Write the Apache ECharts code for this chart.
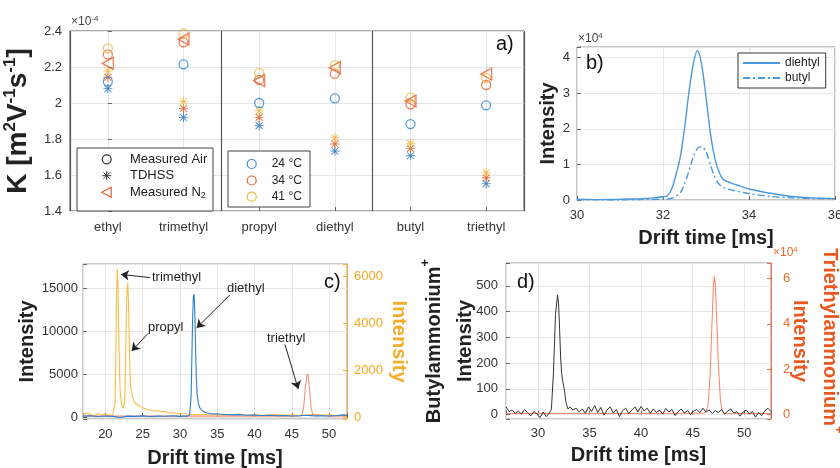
<!DOCTYPE html>
<html><head><meta charset="utf-8">
<script src="https://cdn.jsdelivr.net/npm/echarts@6/dist/echarts.min.js"></script>
<style>html,body{margin:0;padding:0;background:#fff}#c{width:840px;height:468px}</style>
</head><body><div id="c"></div>
<script>
// ---------- Panel a (K values, x1e-4) ----------
const categories = ['ethyl','trimethyl','propyl','diethyl','butyl','triethyl'];
const air24 = [2.12, 2.215, 2.0, 2.026, 1.883, 1.987];
const air34 = [2.27, 2.337, 2.128, 2.163, 1.993, 2.10];
const air41 = [2.304, 2.387, 2.167, 2.209, 2.03, 2.14];
const tdhss24 = [2.08, 1.92, 1.874, 1.733, 1.707, 1.552];
const tdhss34 = [2.143, 1.97, 1.92, 1.772, 1.748, 1.585];
const tdhss41 = [2.178, 2.007, 1.956, 1.807, 1.776, 1.613];
const measuredN2 = [2.22, 2.355, 2.124, 2.196, 2.011, 2.161];

// ---------- Panel b (x1e4) ----------
const bDiethylX = [30, 30.5, 31, 31.5, 31.8, 32.0, 32.1, 32.2, 32.3, 32.4, 32.5, 32.6, 32.7, 32.8, 32.9, 33.0, 33.1, 33.2, 33.3, 33.4, 33.6, 33.8, 34.0, 34.5, 35.0, 35.5, 36];
const bDiethylY = [0.02, 0.01, 0.02, 0.04, 0.06, 0.09, 0.12, 0.3, 0.7, 1.2, 2.0, 3.0, 3.8, 4.2, 3.8, 2.9, 1.9, 1.2, 0.8, 0.58, 0.47, 0.39, 0.31, 0.19, 0.1, 0.06, 0.04];
const bButylX = [30, 31, 31.5, 32.0, 32.2, 32.4, 32.5, 32.6, 32.7, 32.8, 32.9, 33.0, 33.1, 33.2, 33.3, 33.4, 33.6, 34.0, 34.5, 35, 36];
const bButylY = [0.01, 0.0, 0.01, 0.02, 0.05, 0.2, 0.45, 0.8, 1.2, 1.45, 1.5, 1.35, 1.0, 0.65, 0.45, 0.35, 0.28, 0.18, 0.1, 0.06, 0.03];

// ---------- Panel c ----------
const cYellowX = [17, 17.5, 18, 18.5, 19, 19.5, 20, 20.5, 21, 21.2, 21.3, 21.4, 21.5, 21.6, 21.7, 21.8, 21.9, 22.0, 22.2, 22.4, 22.6, 22.7, 22.8, 22.9, 23.0, 23.1, 23.2, 23.3, 23.4, 23.6, 23.8, 24, 24.5, 25, 25.5, 26, 26.5, 27, 27.5, 28, 28.5, 29, 29.5, 30, 31, 32, 33, 34, 35, 36, 37, 38, 39, 40, 41, 42, 43, 44, 45, 46, 47, 48, 49, 50, 51, 52, 52.4];
const cYellowY = [120, 180, 100, 60, 140, 90, 110, 70, 100, 150, 600, 2500, 5200, 6350, 5600, 3600, 1900, 1000, 500, 380, 700, 2200, 4300, 5500, 5720, 4900, 3300, 2000, 1300, 900, 700, 600, 480, 400, 330, 300, 260, 280, 210, 240, 170, 190, 140, 160, 130, 90, 120, 80, 110, 70, 100, 130, 80, 100, 60, 90, 110, 70, 90, 60, 80, 120, 70, 90, 60, 100, 80];
const cBlueX = [17, 18, 19, 20, 21, 22, 23, 24, 25, 26, 27, 28, 29, 30, 30.5, 31, 31.3, 31.5, 31.6, 31.7, 31.8, 31.9, 32.0, 32.1, 32.2, 32.3, 32.5, 32.7, 33, 33.5, 34, 35, 36, 37, 38, 39, 40, 41, 42, 43, 44, 45, 46, 47, 48, 49, 50, 51, 52, 52.4];
const cBlueY = [100, 150, 60, 120, 80, -50, 100, 80, 130, 60, 100, 90, 140, 70, 100, 110, 200, 2500, 7000, 11500, 14000, 14286, 12000, 8000, 4500, 2600, 1500, 1000, 700, 500, 400, 350, 300, 250, 280, 200, 220, 180, 200, 150, 170, 120, 150, 200, 130, 150, 120, 180, 250, 150];
const cSalmonX = [17, 20, 25, 30, 35, 40, 45, 46, 46.4, 46.6, 46.8, 47.0, 47.1, 47.2, 47.4, 47.6, 47.8, 48, 50, 52.4];
const cSalmonY = [100, 110, 100, 110, 100, 110, 100, 120, 300, 1200, 3300, 4800, 5050, 4800, 3000, 1000, 300, 130, 110, 100];
// annotation arrows (data coordinates of panel c, left axis): [x1,y1,x2,y2]
const cArrows = [[25.98, 16220, 22.09, 16589], [25.71, 9711, 23.53, 7672], [36.7, 14204, 32.24, 10368], [44.08, 8444, 45.86, 3260]];

// ---------- Panel d ----------
const dBlackX = [26.9, 27.2, 27.5, 27.8, 28.1, 28.4, 28.7, 29.0, 29.3, 29.6, 29.9, 30.2, 30.5, 30.8, 31.1, 31.3, 31.5, 31.7, 31.9, 32.0, 32.1, 32.2, 32.3, 32.4, 32.5, 32.6, 32.7, 32.9, 33.1, 33.4, 33.7, 34.0, 34.3, 34.6, 34.9, 35.2, 35.5, 35.8, 36.1, 36.4, 36.7, 37.0, 37.3, 37.6, 37.9, 38.2, 38.5, 38.8, 39.1, 39.4, 39.7, 40.0, 40.3, 40.6, 40.9, 41.2, 41.5, 41.8, 42.1, 42.4, 42.7, 43.0, 43.3, 43.6, 43.9, 44.2, 44.5, 44.8, 45.1, 45.4, 45.7, 46.0, 46.3, 46.6, 46.9, 47.2, 47.5, 47.8, 48.1, 48.4, 48.7, 49.0, 49.3, 49.6, 49.9, 50.2, 50.5, 50.8, 51.1, 51.4, 51.7, 52.0, 52.3, 52.6];
const dBlackY = [30, 12, 18, 5, 14, 2, 20, 8, -5, 12, 3, -12, 10, -8, 6, 20, 160, 390, 465, 430, 330, 220, 160, 130, 110, 85, 50, 22, 30, 18, 25, 10, 22, 5, 30, 12, 35, 8, 28, -2, 18, 30, 6, 20, -8, 15, 25, 4, 18, 30, 10, 32, 14, 25, 5, 22, 8, 18, 2, 24, 10, 20, -4, 12, 22, 6, 16, 0, 14, 20, 8, 25, 10, 18, 4, 16, 8, 20, 2, 14, 22, 6, 12, -6, 10, 18, 2, 12, -10, 8, -4, 15, 25, 12];
const dOrangeX = [26.9, 30, 35, 40, 44, 46.0, 46.3, 46.5, 46.7, 46.9, 47.0, 47.1, 47.2, 47.3, 47.5, 47.7, 47.9, 48.1, 50, 52.6];
const dOrangeY = [0.05, 0.06, 0.05, 0.05, 0.06, 0.07, 0.12, 0.45, 1.8, 4.3, 5.6, 6.09, 5.8, 4.6, 2.2, 0.6, 0.15, 0.06, 0.05, 0.05];

const FONT = '"Liberation Sans", Arial, Helvetica, sans-serif';
const C_BLUE = '#2E86D1', C_ORANGE = '#E2622F', C_YELLOW = '#F2B43A';
const GRIDC = '#e6e6e6';
const zip = (xs, ys) => xs.map((x, i) => [x, ys[i]]);
const stepFmt = (step, dec) => v => { const r = v / step; return Math.abs(r - Math.round(r)) < 1e-6 ? String(+(+v).toFixed(dec)) : ''; };
const ASTER = 'path://M4.5,0 L5.5,0 L5.5,10 L4.5,10 Z M0,4.5 L10,4.5 L10,5.5 L0,5.5 Z M1.46,0.76 L9.24,8.54 L8.54,9.24 L0.76,1.46 Z M8.54,0.76 L9.24,1.46 L1.46,9.24 L0.76,8.54 Z';
const LTRI = 'path://M0,5 L10,0 L10,10 Z';

const tick = (color) => ({show: true, inside: true, length: 4, lineStyle: {color: color || '#666'}});
const lab = (fmt, margin, color) => ({formatter: fmt, margin: margin, color: color || '#333', fontSize: 13, fontFamily: FONT});
const bold20 = {fontSize: 20, fontWeight: 'bold', color: '#222', fontFamily: FONT};
const ax = o => Object.assign({nameMoveOverlap: false}, o);

function airSeries(name, data, color) {
  return {type: 'scatter', name, xAxisIndex: 0, yAxisIndex: 0, data, symbol: 'circle', symbolSize: 9,
    itemStyle: {color: 'rgba(0,0,0,0)', borderColor: color, borderWidth: 1.3}, z: 5};
}
function tdSeries(name, data, color) {
  return {type: 'scatter', name, xAxisIndex: 0, yAxisIndex: 0, data, symbol: ASTER, symbolSize: 9, symbolKeepAspect: true,
    itemStyle: {color: color}, z: 4};
}
const gridBase = {show: true, borderWidth: 1, containLabel: false, outerBoundsMode: 'none'};

const option = {
  animation: false,
  textStyle: {fontFamily: FONT},
  grid: [
    Object.assign({left: 70, top: 31, width: 454, height: 180, borderColor: '#555', backgroundColor: '#fff'}, gridBase),
    Object.assign({left: 577, top: 47, width: 258, height: 153, borderColor: '#888'}, gridBase),
    Object.assign({left: 83, top: 264, width: 264, height: 155, borderColor: '#999'}, gridBase),
    Object.assign({left: 506, top: 263, width: 265, height: 156, borderColor: '#999'}, gridBase)
  ],
  xAxis: [
    ax({type: 'category', gridIndex: 0, data: categories, boundaryGap: true, position: 'bottom',
      axisLine: {show: false}, axisTick: {show: true, inside: true, alignWithLabel: true, length: 4, lineStyle: {color: '#666'}},
      axisLabel: {color: '#333', fontSize: 13, margin: 10, fontFamily: FONT}, splitLine: {show: false}}),
    ax({type: 'value', gridIndex: 0, min: -0.5, max: 5.5, splitNumber: 6, position: 'bottom',
      axisLine: {show: false}, axisTick: {show: false}, axisLabel: {show: false}, splitLine: {show: true, lineStyle: {color: GRIDC}}}),
    ax({type: 'value', gridIndex: 0, min: 0, max: 6, interval: 2, position: 'bottom',
      axisLine: {show: false}, axisTick: {show: false}, axisLabel: {show: false}, splitLine: {show: true, lineStyle: {color: '#555', width: 1.2}}}),
    ax({type: 'value', gridIndex: 1, min: 30, max: 36, splitNumber: 3, axisLine: {show: false}, axisTick: tick(),
      axisLabel: lab(stepFmt(2, 0), 9), splitLine: {show: true, lineStyle: {color: GRIDC}},
      name: 'Drift time [ms]', nameLocation: 'middle', nameGap: 28, nameTextStyle: bold20}),
    ax({type: 'value', gridIndex: 2, min: 17, max: 52.4, splitNumber: 7, axisLine: {show: false}, axisTick: tick(),
      axisLabel: lab(stepFmt(5, 0), 9), splitLine: {show: true, lineStyle: {color: GRIDC}},
      name: 'Drift time [ms]', nameLocation: 'middle', nameGap: 29, nameTextStyle: bold20}),
    ax({type: 'value', gridIndex: 3, min: 26.9, max: 52.6, splitNumber: 5, axisLine: {show: false}, axisTick: tick(),
      axisLabel: lab(stepFmt(5, 0), 8), splitLine: {show: true, lineStyle: {color: GRIDC}},
      name: 'Drift time [ms]', nameLocation: 'middle', nameGap: 26, nameTextStyle: bold20})
  ],
  yAxis: [
    ax({type: 'value', gridIndex: 0, min: 1.4, max: 2.4, splitNumber: 5, axisLine: {show: false}, axisTick: tick(),
      axisLabel: lab(stepFmt(0.2, 1), 8), splitLine: {show: true, lineStyle: {color: GRIDC}},
      name: '{b|K [m}{s|2}{b|V}{s|-1}{b|s}{s|-1}{b|]}', nameLocation: 'middle', nameRotate: 90, nameGap: 36,
      nameTextStyle: {color: '#222', rich: {
        b: {fontSize: 28, fontWeight: 'bold', fontFamily: FONT, color: '#222', lineHeight: 32},
        s: {fontSize: 17, fontWeight: 'bold', fontFamily: FONT, color: '#222', verticalAlign: 'top', lineHeight: 32}}}}),
    ax({type: 'value', gridIndex: 1, min: 0, max: 4.3, splitNumber: 4, axisLine: {show: false}, axisTick: tick(),
      axisLabel: lab(stepFmt(1, 0), 7), splitLine: {show: true, lineStyle: {color: GRIDC}},
      name: 'Intensity', nameLocation: 'middle', nameRotate: 90, nameGap: 19, nameTextStyle: bold20}),
    ax({type: 'value', gridIndex: 2, min: -230, max: 17800, splitNumber: 4, position: 'left', axisLine: {show: false}, axisTick: tick(),
      axisLabel: lab(stepFmt(5000, 0), 5), splitLine: {show: true, lineStyle: {color: GRIDC}},
      name: 'Intensity', nameLocation: 'middle', nameRotate: 90, nameGap: 46, nameTextStyle: bold20}),
    ax({type: 'value', gridIndex: 2, min: -85, max: 6540, splitNumber: 3, position: 'right',
      axisLine: {show: true, lineStyle: {color: '#F2B035'}}, axisTick: tick('#F2B035'),
      axisLabel: lab(stepFmt(2000, 0), 7, '#F2A81C'), splitLine: {show: false},
      name: 'Intensity', nameLocation: 'middle', nameRotate: -90, nameGap: 42,
      nameTextStyle: {fontSize: 20, fontWeight: 'bold', color: '#F4AE2A', fontFamily: FONT}}),
    ax({type: 'value', gridIndex: 3, min: -17, max: 589, splitNumber: 6, position: 'left', axisLine: {show: false}, axisTick: tick(),
      axisLabel: lab(stepFmt(100, 0), 8), splitLine: {show: true, lineStyle: {color: GRIDC}},
      name: '{b|Butylammonium}{s|+}\n{b|Intensity}', nameLocation: 'middle', nameRotate: 90, nameGap: 25,
      nameTextStyle: {rich: {
        b: {fontSize: 20, fontWeight: 'bold', fontFamily: FONT, color: '#222', lineHeight: 31},
        s: {fontSize: 13, fontWeight: 'bold', fontFamily: FONT, color: '#222', verticalAlign: 'top', lineHeight: 31}}}}),
    ax({type: 'value', gridIndex: 3, min: -0.19, max: 6.68, splitNumber: 3, position: 'right',
      axisLine: {show: true, lineStyle: {color: '#F07040'}}, axisTick: tick('#F07040'),
      axisLabel: lab(stepFmt(2, 0), 12, '#F06A2D'), splitLine: {show: false},
      name: '{b|Triethylammonium}{s|+}\n{b|Intensity}', nameLocation: 'middle', nameRotate: -90, nameGap: 14,
      nameTextStyle: {rich: {
        b: {fontSize: 20, fontWeight: 'bold', fontFamily: FONT, color: '#E8581F', lineHeight: 30},
        s: {fontSize: 13, fontWeight: 'bold', fontFamily: FONT, color: '#E8581F', verticalAlign: 'top', lineHeight: 30}}}})
  ],
  legend: {
    data: ['diehtyl', 'butyl'], orient: 'vertical', left: 738, top: 53, padding: [4, 6, 4, 4], itemGap: 3,
    itemWidth: 37, itemHeight: 10, backgroundColor: '#fff', borderColor: '#333', borderWidth: 1,
    itemStyle: {opacity: 0},
    textStyle: {fontSize: 12, color: '#222', fontFamily: FONT}
  },
  graphic: {elements: [
    // panel a legend 1
    {type: 'rect', shape: {x: 77, y: 148, width: 136, height: 63}, style: {fill: '#fff', stroke: '#444', lineWidth: 1}, z: 100},
    {type: 'circle', shape: {cx: 106.7, cy: 159.3, r: 4.5}, style: {fill: 'none', stroke: '#333', lineWidth: 1.2}, z: 101},
    {type: 'line', shape: {x1: 102.2, y1: 175.7, x2: 111.2, y2: 175.7}, style: {stroke: '#333', lineWidth: 1}, z: 101},
    {type: 'line', shape: {x1: 106.7, y1: 171.2, x2: 106.7, y2: 180.2}, style: {stroke: '#333', lineWidth: 1}, z: 101},
    {type: 'line', shape: {x1: 103.5, y1: 172.5, x2: 109.9, y2: 178.9}, style: {stroke: '#333', lineWidth: 1}, z: 101},
    {type: 'line', shape: {x1: 109.9, y1: 172.5, x2: 103.5, y2: 178.9}, style: {stroke: '#333', lineWidth: 1}, z: 101},
    {type: 'polygon', shape: {points: [[101.7, 192.3], [111.2, 187.3], [111.2, 197.3]]}, style: {fill: 'none', stroke: C_ORANGE, lineWidth: 1.2}, z: 101},
    {type: 'text', x: 130, y: 159.3, style: {text: 'Measured Air', fontSize: 13, fontFamily: FONT, fill: '#222', verticalAlign: 'middle'}, z: 101},
    {type: 'text', x: 130, y: 175.7, style: {text: 'TDHSS', fontSize: 13, fontFamily: FONT, fill: '#222', verticalAlign: 'middle'}, z: 101},
    {type: 'text', x: 130, y: 192.3, style: {text: '{n|Measured N}{u|2}', verticalAlign: 'middle',
      rich: {n: {fontSize: 13, fontFamily: FONT, fill: '#222', lineHeight: 16}, u: {fontSize: 9, fontFamily: FONT, fill: '#222', verticalAlign: 'bottom', lineHeight: 16}}}, z: 101},
    // panel a legend 2
    {type: 'rect', shape: {x: 228, y: 151, width: 82, height: 56}, style: {fill: '#fff', stroke: '#444', lineWidth: 1}, z: 100},
    {type: 'circle', shape: {cx: 251.7, cy: 164, r: 4.5}, style: {fill: 'none', stroke: C_BLUE, lineWidth: 1.2}, z: 101},
    {type: 'circle', shape: {cx: 251.7, cy: 180.5, r: 4.5}, style: {fill: 'none', stroke: C_ORANGE, lineWidth: 1.2}, z: 101},
    {type: 'circle', shape: {cx: 251.7, cy: 196.7, r: 4.5}, style: {fill: 'none', stroke: C_YELLOW, lineWidth: 1.2}, z: 101},
    {type: 'text', x: 271.7, y: 164, style: {text: '24 °C', fontSize: 12, fontFamily: FONT, fill: '#222', verticalAlign: 'middle'}, z: 101},
    {type: 'text', x: 271.7, y: 180.5, style: {text: '34 °C', fontSize: 12, fontFamily: FONT, fill: '#222', verticalAlign: 'middle'}, z: 101},
    {type: 'text', x: 271.7, y: 196.7, style: {text: '41 °C', fontSize: 12, fontFamily: FONT, fill: '#222', verticalAlign: 'middle'}, z: 101},
    // panel letters
    {type: 'text', x: 496, y: 44, style: {text: 'a)', fontSize: 20, fontFamily: FONT, fill: '#111', verticalAlign: 'middle'}, z: 101},
    {type: 'text', x: 586, y: 63, style: {text: 'b)', fontSize: 20, fontFamily: FONT, fill: '#111', verticalAlign: 'middle'}, z: 101},
    {type: 'text', x: 324, y: 282, style: {text: 'c)', fontSize: 20, fontFamily: FONT, fill: '#111', verticalAlign: 'middle'}, z: 101},
    {type: 'text', x: 517, y: 282, style: {text: 'd)', fontSize: 20, fontFamily: FONT, fill: '#111', verticalAlign: 'middle'}, z: 101},
    // exponents
    {type: 'text', x: 71, y: 22, style: {text: '{n|×10}{s|-4}', verticalAlign: 'middle',
      rich: {n: {fontSize: 12, fontFamily: FONT, fill: '#444', lineHeight: 14}, s: {fontSize: 8, fontFamily: FONT, fill: '#444', verticalAlign: 'top', lineHeight: 14}}}, z: 101},
    {type: 'text', x: 578, y: 39, style: {text: '{n|×10}{s|4}', verticalAlign: 'middle',
      rich: {n: {fontSize: 12, fontFamily: FONT, fill: '#444', lineHeight: 14}, s: {fontSize: 8, fontFamily: FONT, fill: '#444', verticalAlign: 'top', lineHeight: 14}}}, z: 101},
    {type: 'text', x: 773, y: 253, style: {text: '{n|×10}{s|4}', verticalAlign: 'middle',
      rich: {n: {fontSize: 12, fontFamily: FONT, fill: '#F06A2D', lineHeight: 14}, s: {fontSize: 8, fontFamily: FONT, fill: '#F06A2D', verticalAlign: 'top', lineHeight: 14}}}, z: 101},
    // annotations panel c
    {type: 'text', x: 152, y: 277.5, style: {text: 'trimethyl', fontSize: 13, fontFamily: FONT, fill: '#222', verticalAlign: 'middle'}, z: 101},
    {type: 'text', x: 148, y: 327.7, style: {text: 'propyl', fontSize: 13, fontFamily: FONT, fill: '#222', verticalAlign: 'middle'}, z: 101},
    {type: 'text', x: 227, y: 288, style: {text: 'diethyl', fontSize: 13, fontFamily: FONT, fill: '#222', verticalAlign: 'middle'}, z: 101},
    {type: 'text', x: 267, y: 338, style: {text: 'triethyl', fontSize: 13, fontFamily: FONT, fill: '#222', verticalAlign: 'middle'}, z: 101}
  ]},
  series: [
    tdSeries('TDHSS 24', tdhss24, '#1F6FBF'),
    tdSeries('TDHSS 34', tdhss34, '#D95319'),
    tdSeries('TDHSS 41', tdhss41, '#F0B030'),
    airSeries('Air 24', air24, C_BLUE),
    airSeries('Air 34', air34, C_ORANGE),
    airSeries('Air 41', air41, C_YELLOW),
    {type: 'scatter', name: 'Measured N2', xAxisIndex: 0, yAxisIndex: 0, data: measuredN2, symbol: LTRI, symbolSize: [11, 12],
      itemStyle: {color: 'rgba(0,0,0,0)', borderColor: C_ORANGE, borderWidth: 1.3}, z: 6},
    {type: 'line', name: 'diehtyl', xAxisIndex: 3, yAxisIndex: 1, data: zip(bDiethylX, bDiethylY), symbol: 'none', smooth: 0.3,
      lineStyle: {color: '#4A98DE', width: 1.4}, itemStyle: {color: '#4A98DE'}},
    {type: 'line', name: 'butyl', xAxisIndex: 3, yAxisIndex: 1, data: zip(bButylX, bButylY), symbol: 'none', smooth: 0.3,
      lineStyle: {color: '#4A98DE', width: 1.4, type: [7, 3, 2, 3]}, itemStyle: {color: '#4A98DE'}},
    {type: 'line', name: 'c yellow', xAxisIndex: 4, yAxisIndex: 3, data: zip(cYellowX, cYellowY), symbol: 'none',
      lineStyle: {color: '#F8BC48', width: 1.1}},
    {type: 'line', name: 'c salmon', xAxisIndex: 4, yAxisIndex: 2, data: zip(cSalmonX, cSalmonY), symbol: 'none',
      lineStyle: {color: '#F4937A', width: 1.1}},
    {type: 'line', name: 'c blue', xAxisIndex: 4, yAxisIndex: 2, data: zip(cBlueX, cBlueY), symbol: 'none',
      lineStyle: {color: '#2B7FCE', width: 1.1},
      markLine: {silent: true, animation: false, symbol: ['none', 'arrow'], symbolSize: 8, label: {show: false},
        lineStyle: {color: '#222', width: 1, type: 'solid'}, emphasis: {disabled: true},
        data: cArrows.map(a => [{coord: [a[0], a[1]]}, {coord: [a[2], a[3]]}])}},
    {type: 'line', name: 'd orange', xAxisIndex: 5, yAxisIndex: 5, data: zip(dOrangeX, dOrangeY), symbol: 'none',
      lineStyle: {color: '#F58E6E', width: 1.1}},
    {type: 'line', name: 'd black', xAxisIndex: 5, yAxisIndex: 4, data: zip(dBlackX, dBlackY), symbol: 'none',
      lineStyle: {color: '#333', width: 1}}
  ]
};
const chart = echarts.init(document.getElementById('c'), null, {renderer: 'canvas'});
chart.setOption(option);
</script></body></html>
